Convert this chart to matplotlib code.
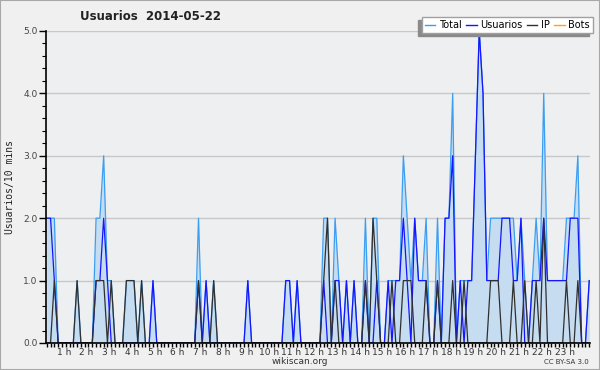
import matplotlib
matplotlib.use("Agg")
import matplotlib.pyplot as plt
from matplotlib.patches import Rectangle
from matplotlib.ticker import FixedLocator, MultipleLocator, FormatStrFormatter

# one value every 10 minutes (144 per day)
total = [2,2,2,0,0,0, 0,0,1,0,0,0, 0,2,2,3,1,1, 0,0,0,1,1,1,
         0,1,0,0,1,0, 0,0,0,0,0,0, 0,0,0,0,2,0, 1,0,1,0,0,0,
         0,0,0,0,0,1, 0,0,0,0,0,0, 0,0,0,1,1,0, 1,0,0,0,0,0,
         0,2,2,0,2,1, 0,1,0,1,0,0, 2,0,2,2,0,0, 1,1,1,1,3,2,
         1,2,1,1,2,0, 0,2,0,2,2,4, 0,1,1,1,1,3, 5,4,1,2,2,2,
         2,2,2,2,1,2, 1,0,1,2,1,4, 1,1,1,1,1,2, 2,2,3,0,0,1]
usuarios = [2,2,1,0,0,0, 0,0,0,0,0,0, 0,1,1,2,1,0, 0,0,0,0,0,0,
            0,0,0,0,1,0, 0,0,0,0,0,0, 0,0,0,0,1,0, 1,0,0,0,0,0,
            0,0,0,0,0,1, 0,0,0,0,0,0, 0,0,0,1,1,0, 1,0,0,0,0,0,
            0,1,0,0,1,1, 0,1,0,1,0,0, 1,0,0,1,0,0, 1,0,1,1,2,1,
            0,2,1,1,1,0, 0,1,0,2,2,3, 0,1,0,1,1,3, 5,4,1,1,1,1,
            2,2,2,1,1,2, 0,0,1,1,1,2, 1,1,1,1,1,1, 2,2,2,0,0,1]
ip = [0,0,1,0,0,0, 0,0,1,0,0,0, 0,1,1,1,0,1, 0,0,0,1,1,1,
      0,1,0,0,0,0, 0,0,0,0,0,0, 0,0,0,0,1,0, 0,0,1,0,0,0,
      0,0,0,0,0,0, 0,0,0,0,0,0, 0,0,0,0,0,0, 0,0,0,0,0,0,
      0,1,2,0,1,0, 0,0,0,0,0,0, 1,0,2,1,0,0, 0,1,0,0,1,1,
      1,0,0,0,1,0, 0,1,0,0,0,1, 0,0,1,0,0,0, 0,0,0,1,1,1,
      0,0,0,1,0,0, 1,0,0,1,0,2, 0,0,0,0,0,1, 0,0,1,0,0,0]
bots = [0] * 144
hours = list(range(1, 24))
hour_labels = ["%d h" % h for h in hours]

x = list(range(len(total)))

fig = plt.figure(figsize=(6, 3.7), dpi=100, facecolor="#f0f0f0")
fig.patches.append(Rectangle((0, 0), 1, 1, transform=fig.transFigure,
                             fill=False, edgecolor="#a8a8a8", lw=1.5))

ax = fig.add_axes([46/600, 1-343/370, 544/600, 312/370])
ax.set_facecolor("#edeff1")

ax.plot(x, bots, color="#ffa500", lw=0.9, zorder=1)
ax.fill_between(x, total, 0, color="#c6dcf0", lw=0, zorder=2)
ax.plot(x, total, color="#3a9ef2", lw=0.9, zorder=3)
ax.plot(x, usuarios, color="#1515ff", lw=0.9, zorder=4)
ax.plot(x, ip, color="#303030", lw=0.9, zorder=5)

ax.set_xlim(-0.2, 143.2)
ax.set_ylim(0, 5)
ax.yaxis.set_major_locator(MultipleLocator(1))
ax.yaxis.set_minor_locator(MultipleLocator(0.2))
ax.yaxis.set_major_formatter(FormatStrFormatter("%.1f"))
ax.grid(axis="y", which="major", color="#c8c8c8", lw=1, zorder=0)
ax.set_axisbelow(True)

ax.xaxis.set_major_locator(FixedLocator([6*h - 1.5 for h in hours]))
ax.set_xticklabels(hour_labels)
ax.xaxis.set_minor_locator(MultipleLocator(1))
ax.tick_params(axis="x", which="major", length=0, pad=3.5, labelsize=6.5, labelcolor="#333333")
ax.tick_params(axis="x", which="minor", length=3, width=1, color="black")
ax.tick_params(axis="y", which="major", length=5, width=1, labelsize=6.5, labelcolor="#444444", pad=1)
ax.tick_params(axis="y", which="minor", length=3, width=0.8)

for s in ["top", "right"]:
    ax.spines[s].set_visible(False)
for s in ["left", "bottom"]:
    ax.spines[s].set_linewidth(1.2)
    ax.spines[s].set_zorder(6)

fig.text(10/600, 1-187/370, "Usuarios/10 mins", rotation=90, ha="center", va="center",
         fontsize=7, family="DejaVu Sans Mono", color="#222222")
fig.text(151/600, 1-16/370, "Usuarios  2014-05-22", ha="center", va="center",
         fontsize=8.5, fontweight="bold", color="#222222")
fig.text(300/600, 1-362/370, "wikiscan.org", ha="center", va="center", fontsize=6.5, color="#333333")
fig.text(589/600, 1-362/370, "CC BY-SA 3.0", ha="right", va="center", fontsize=5, color="#333333")

handles = [plt.Line2D([], [], color=c, lw=1) for c in ["#3a9ef2", "#1515ff", "#303030", "#ffa500"]]
leg = fig.legend(handles, ["Total", "Usuarios", "IP", "Bots"], ncol=4,
                 loc="upper right", bbox_to_anchor=(593/600, 1-17/370),
                 fontsize=7, frameon=True, fancybox=False, edgecolor="#a0a0a0",
                 framealpha=1, borderpad=0.3, handlelength=1.1, handletextpad=0.4,
                 columnspacing=0.4, borderaxespad=0)
leg.get_frame().set_linewidth(1)
fig.canvas.draw()
bb = leg.get_window_extent().transformed(fig.transFigure.inverted())
fig.patches.append(Rectangle((bb.x0 - 4/600, bb.y0 - 3/370), bb.width, bb.height,
                             transform=fig.transFigure, color="#8a8a8a", zorder=4.5))

fig.savefig("out.png", dpi=100, facecolor=fig.get_facecolor())
